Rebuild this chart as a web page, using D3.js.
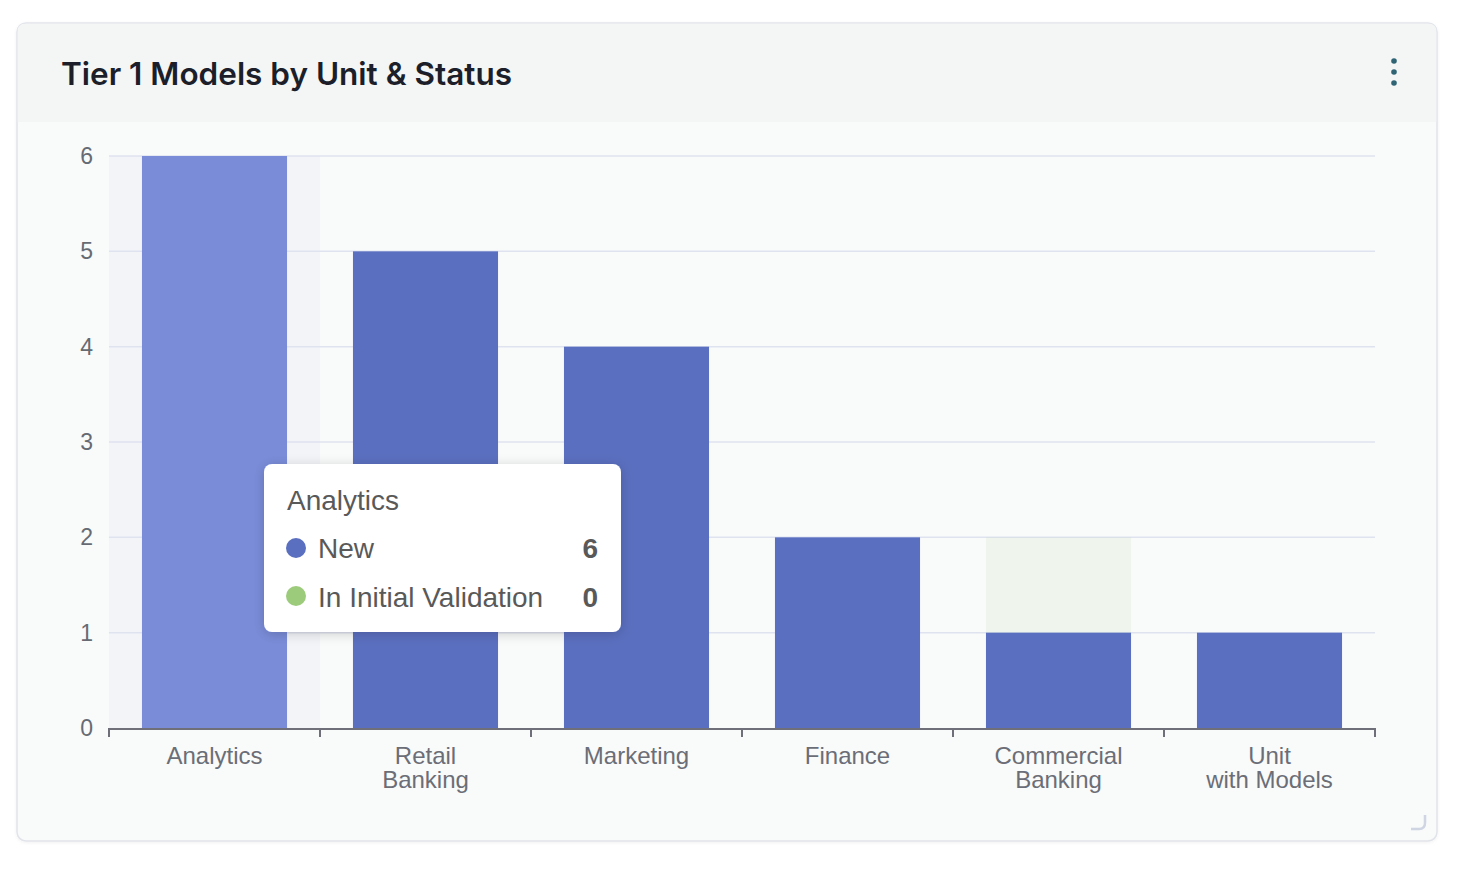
<!DOCTYPE html>
<html><head><meta charset="utf-8">
<script src="https://cdn.jsdelivr.net/npm/d3@7"></script>
<style>
html,body{margin:0;padding:0;background:#fff;}
svg{display:block;}
</style></head>
<body><svg id="c" width="1460" height="874"></svg>
<script>
const title = "Tier 1 Models by Unit & Status";
const categories = ["Analytics", "Retail\nBanking", "Marketing", "Finance", "Commercial\nBanking", "Unit\nwith Models"];
const seriesNames = ["New", "In Initial Validation"];
const newValues = [6, 5, 4, 2, 1, 1];
const validationValues = [0, 0, 0, 0, 1, 0];
const seriesColors = ["#5a6fbf", "#9dcb7c"];
const yTicks = [0, 1, 2, 3, 4, 5, 6];
const hoverIndex = 0;

(function(){
const svg = d3.select("#c");
const defs = svg.append("defs");
const f = defs.append("filter").attr("id","sh").attr("x","-20%").attr("y","-20%").attr("width","140%").attr("height","150%");
f.append("feDropShadow").attr("dx",0).attr("dy",2).attr("stdDeviation",6).attr("flood-color","#000").attr("flood-opacity",0.18);
const fc = defs.append("filter").attr("id","csh").attr("x","-5%").attr("y","-5%").attr("width","110%").attr("height","110%");
fc.append("feDropShadow").attr("dx",0).attr("dy",1).attr("stdDeviation",1.5).attr("flood-color","#000").attr("flood-opacity",0.06);

// card
const cx0 = 17, cy0 = 23, cw = 1420, ch = 818;
svg.append("rect").attr("x",cx0).attr("y",cy0).attr("width",cw).attr("height",ch).attr("rx",9)
  .attr("fill","#f9fafa").attr("stroke","#e1e4ea").attr("stroke-width",1.5).attr("filter","url(#csh)");
const clip = defs.append("clipPath").attr("id","cardclip");
clip.append("rect").attr("x",cx0).attr("y",cy0).attr("width",cw).attr("height",ch).attr("rx",9);
svg.append("rect").attr("x",cx0+0.75).attr("y",cy0+0.75).attr("width",cw-1.5).attr("height",122-cy0-0.75)
  .attr("fill","#f4f6f6").attr("clip-path","url(#cardclip)");
svg.append("text").attr("x",61).attr("y",85).text(title)
  .attr("font-family","Inter, 'Noto Sans', sans-serif").attr("font-weight",600).attr("font-size",31.5)
  .attr("fill","#1c1f2a");
[61,72,83].forEach(yy=>svg.append("circle").attr("cx",1394).attr("cy",yy).attr("r",2.8).attr("fill","#2f6475"));
// resize handle
svg.append("path").attr("d","M1411,829 L1419,829 Q1425,829 1425,823 L1425,815")
  .attr("fill","none").attr("stroke","#cfd5e2").attr("stroke-width",2.5);

// plot
const pLeft = 109, pRight = 1375, pTop = 156, pBottom = 728;
const ff = "'Liberation Sans', Arial, sans-serif";
const x = d3.scaleBand().domain(d3.range(categories.length)).range([pLeft,pRight]).paddingInner(0.3125).paddingOuter(0.15625);
const xb = d3.scaleBand().domain(d3.range(categories.length)).range([pLeft,pRight]);
const y = d3.scaleLinear().domain([0,6]).range([pBottom,pTop]);
const g = svg.append("g");

// hover band
g.append("rect").attr("x",xb(hoverIndex)).attr("y",pTop).attr("width",xb.bandwidth()).attr("height",pBottom-pTop).attr("fill","#f2f4f8");

// grid
g.selectAll(".grid").data(yTicks.filter(t=>t>0)).join("line")
  .attr("x1",pLeft).attr("x2",pRight).attr("y1",d=>y(d)).attr("y2",d=>y(d))
  .attr("stroke","#dfe3ef").attr("stroke-width",1.5);

// bars - New
g.selectAll(".bn").data(newValues).join("rect")
  .attr("x",(d,i)=>x(i)).attr("width",x.bandwidth())
  .attr("y",d=>y(d)).attr("height",d=>y(0)-y(d))
  .attr("fill",(d,i)=>i===hoverIndex ? "#7a8cd8" : seriesColors[0]);
// bars - In Initial Validation (dimmed)
g.selectAll(".bv").data(validationValues).join("rect")
  .attr("x",(d,i)=>x(i)).attr("width",x.bandwidth())
  .attr("y",(d,i)=>y(newValues[i]+d)).attr("height",(d,i)=>y(newValues[i])-y(newValues[i]+d))
  .attr("fill",seriesColors[1]).attr("opacity",0.1);

// y axis labels
g.selectAll(".yl").data(yTicks).join("text")
  .attr("x",93).attr("y",d=>y(d)+8).attr("text-anchor","end").text(d=>d)
  .attr("font-family",ff).attr("font-size",23).attr("fill","#666b73");

// x axis
const xAxisG = g.append("g").attr("transform",`translate(0,${pBottom})`);
xAxisG.append("line").attr("x1",pLeft).attr("x2",pRight+1).attr("y1",1).attr("y2",1).attr("stroke","#6e6f78").attr("stroke-width",2);
const bounds = d3.range(categories.length+1).map(i=> i<categories.length ? xb(i) : pRight);
xAxisG.selectAll(".tk").data(bounds).join("line")
  .attr("x1",d=>d).attr("x2",d=>d).attr("y1",0).attr("y2",9).attr("stroke","#6e6f78").attr("stroke-width",2);
categories.forEach((c,i)=>{
  const t = xAxisG.append("text").attr("x",xb(i)+xb.bandwidth()/2).attr("y",36).attr("text-anchor","middle")
    .attr("font-family",ff).attr("font-size",24).attr("fill","#6b6e76");
  c.split("\n").forEach((ln,k)=>t.append("tspan").attr("x",xb(i)+xb.bandwidth()/2).attr("dy",k?24:0).text(ln));
});

// tooltip
const tt = svg.append("g");
tt.append("rect").attr("x",264).attr("y",464).attr("width",357).attr("height",168).attr("rx",8).attr("fill","#fff").attr("filter","url(#sh)");
tt.append("text").attr("x",287).attr("y",510).text(categories[hoverIndex].replace("\n"," ")).attr("font-family",ff).attr("font-size",28).attr("fill","#595959");
const vals = [newValues[hoverIndex], validationValues[hoverIndex]];
seriesNames.forEach((s,k)=>{
  const yy = 558 + k*49;
  tt.append("circle").attr("cx",296).attr("cy",548 + k*48).attr("r",10).attr("fill",seriesColors[k]);
  tt.append("text").attr("x",318).attr("y",yy).text(s).attr("font-family",ff).attr("font-size",28).attr("fill","#595959");
  tt.append("text").attr("x",598).attr("y",yy).attr("text-anchor","end").text(vals[k]).attr("font-family",ff).attr("font-size",28).attr("font-weight","bold").attr("fill","#595959");
});
})();
</script></body></html>
